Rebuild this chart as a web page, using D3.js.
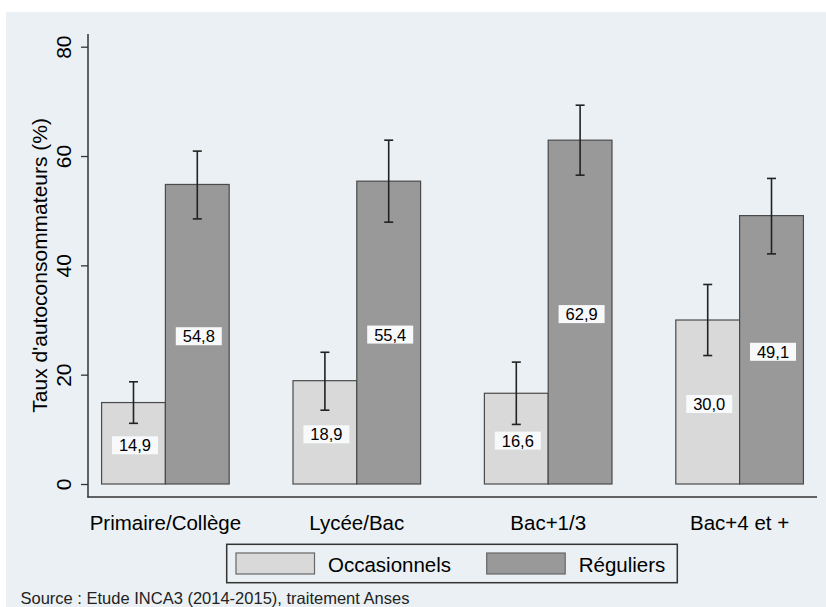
<!DOCTYPE html>
<html><head><meta charset="utf-8">
<script src="https://cdn.jsdelivr.net/npm/d3@7"></script>
<style>html,body{margin:0;padding:0;background:#fff;}svg{display:block;font-family:"Liberation Sans",Arial,sans-serif;}</style>
</head><body>
<script>
const categories = ["Primaire/Collège", "Lycée/Bac", "Bac+1/3", "Bac+4 et +"];
const seriesNames = ["Occasionnels", "Réguliers"];
const occValues = [14.9, 18.9, 16.6, 30.0];
const occLow = [11.1, 13.5, 10.9, 23.5];
const occHigh = [18.7, 24.1, 22.3, 36.5];
const regValues = [54.8, 55.4, 62.9, 49.1];
const regLow = [48.5, 47.9, 56.5, 42.1];
const regHigh = [60.9, 62.9, 69.3, 55.9];
const yTicks = [0, 20, 40, 60, 80];
const yTitle = "Taux d'autoconsommateurs (%)";
const sourceText = "Source : Etude INCA3 (2014-2015), traitement Anses";

const W = 826, H = 607;
const bg = "#eaf0f3";
const colors = ["#d9d9d9", "#999999"];

const svg = d3.select("body").append("svg").attr("width", W).attr("height", H);
svg.append("rect").attr("x", 6).attr("y", 12).attr("width", W - 6).attr("height", H - 12).attr("fill", bg);

const x0 = d3.scaleBand().domain(categories).range([88, 817]).paddingInner(1/3).paddingOuter(0.071);
const x1 = d3.scaleBand().domain(seriesNames).range([0, x0.bandwidth()]);
const y = d3.scaleLinear().domain([0, 80]).range([484, 46.7]);

const locale = d3.formatLocale({decimal: ",", thousands: " ", grouping: [3], currency: ["", "€"]});
const fmt = locale.format(".1f");

const data = categories.map((c, i) => ({
  cat: c,
  items: [
    {s: seriesNames[0], v: occValues[i], lo: occLow[i], hi: occHigh[i]},
    {s: seriesNames[1], v: regValues[i], lo: regLow[i], hi: regHigh[i]}
  ]
}));

const groups = svg.append("g").selectAll("g").data(data).join("g")
  .attr("transform", d => `translate(${x0(d.cat)},0)`);

groups.selectAll("rect").data(d => d.items).join("rect")
  .attr("x", d => x1(d.s)).attr("width", x1.bandwidth())
  .attr("y", d => y(d.v)).attr("height", d => y(0) - y(d.v))
  .attr("fill", (d, i) => colors[i]).attr("stroke", "#4a4a4a").attr("stroke-width", 1.2);

// error bars
const eb = groups.selectAll("g.eb").data(d => d.items).join("g").attr("class", "eb")
  .attr("stroke", "#222").attr("stroke-width", 1.6);
eb.append("line").attr("x1", d => x1(d.s) + x1.bandwidth()/2).attr("x2", d => x1(d.s) + x1.bandwidth()/2)
  .attr("y1", d => y(d.lo)).attr("y2", d => y(d.hi));
eb.append("line").attr("x1", d => x1(d.s) + x1.bandwidth()/2 - 4.5).attr("x2", d => x1(d.s) + x1.bandwidth()/2 + 4.5)
  .attr("y1", d => y(d.lo)).attr("y2", d => y(d.lo));
eb.append("line").attr("x1", d => x1(d.s) + x1.bandwidth()/2 - 4.5).attr("x2", d => x1(d.s) + x1.bandwidth()/2 + 4.5)
  .attr("y1", d => y(d.hi)).attr("y2", d => y(d.hi));

// value labels
const lab = groups.selectAll("g.lab").data(d => d.items).join("g").attr("class", "lab")
  .attr("transform", d => `translate(${x1(d.s) + x1.bandwidth()/2 + 1.5},${y(d.v/2) + 2})`);
lab.append("rect").attr("x", -23).attr("y", -9).attr("width", 46).attr("height", 18).attr("fill", "#f7f9fa");
lab.append("text").attr("text-anchor", "middle").attr("y", 6).attr("font-size", 16.5).attr("fill", "#000")
  .text(d => fmt(d.v));

// y axis
const yAxis = d3.axisLeft(y).tickValues(yTicks).tickSize(7).tickPadding(0).tickFormat(d3.format("d"));
const gy = svg.append("g").attr("transform", "translate(88,0)").call(yAxis);
gy.select(".domain").remove();
gy.selectAll(".tick line").attr("stroke", "#333").attr("stroke-width", 1.3);
gy.selectAll(".tick text").attr("transform", "translate(-17,0) rotate(-90)").attr("text-anchor", "middle")
  .attr("x", 0).attr("dy", 0).attr("y", 0).attr("font-size", 21).attr("fill", "#000")
  .attr("font-family", "Liberation Sans, Arial, sans-serif");
svg.append("line").attr("x1", 88).attr("x2", 88).attr("y1", 34).attr("y2", 497.5).attr("stroke", "#333").attr("stroke-width", 1.5);

// x axis
const xAxis = d3.axisBottom(x0).tickSize(0).tickPadding(0);
const gx = svg.append("g").attr("transform", "translate(0,497)").call(xAxis);
gx.select(".domain").remove();
gx.selectAll(".tick text").attr("y", 33).attr("dy", 0).attr("font-size", 20.5).attr("fill", "#000")
  .attr("font-family", "Liberation Sans, Arial, sans-serif");
svg.append("line").attr("x1", 87.3).attr("x2", 817).attr("y1", 497).attr("y2", 497).attr("stroke", "#333").attr("stroke-width", 1.5);

// y title
svg.append("text").attr("transform", `translate(47,${(y(0) + y(80))/2}) rotate(-90)`)
  .attr("text-anchor", "middle").attr("font-size", 21).attr("fill", "#000").text(yTitle);

// legend
const lg = svg.append("g");
lg.append("rect").attr("x", 226.7).attr("y", 544.3).attr("width", 450.6).attr("height", 38.4)
  .attr("fill", bg).attr("stroke", "#333").attr("stroke-width", 1.5);
const legX = [236, 486.7];
seriesNames.forEach((s, i) => {
  lg.append("rect").attr("x", legX[i]).attr("y", 553).attr("width", 78.5).attr("height", 21)
    .attr("fill", colors[i]).attr("stroke", "#666").attr("stroke-width", 1.2);
  lg.append("text").attr("x", legX[i] + 92).attr("y", 571.5).attr("font-size", 20.5).attr("fill", "#000").text(s);
});

// source
svg.append("text").attr("x", 20.5).attr("y", 604).attr("font-size", 16.5).attr("fill", "#222").text(sourceText);
</script>
</body></html>
